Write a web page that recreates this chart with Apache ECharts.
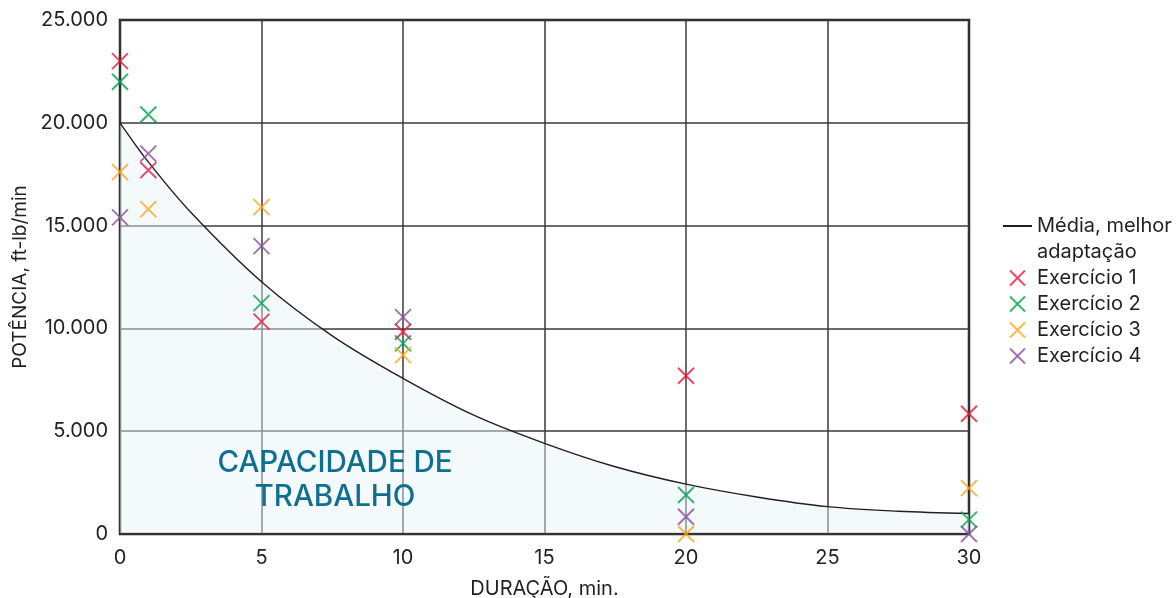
<!DOCTYPE html>
<html>
<head>
<meta charset="utf-8">
<script src="https://cdn.jsdelivr.net/npm/echarts@6/dist/echarts.min.js"></script>
<style>
  html, body { margin: 0; padding: 0; background: #fff; }
  #chart { width: 1176px; height: 598px; }
</style>
</head>
<body>
<div id="chart"></div>
<script>
// ---- data ----
const durations = [0, 1, 5, 10, 20, 30];
const exercicio1 = [23000, 17700, 10330, 9840, 7700, 5850];
const exercicio2 = [22000, 20400, 11230, 9270, 1900, 700];
const exercicio3 = [17600, 15800, 15900, 8700, 0, 2230];
const exercicio4 = [15400, 18500, 14000, 10550, 840, 0];

const curveX = [0, 1, 2.5, 5, 7.5, 10, 12.5, 15, 17.5, 20, 22.5, 25, 27.5, 30];
const curveY = [20000, 18100, 15650, 12270, 9640, 7570, 5780, 4410, 3270, 2425, 1800, 1330, 1110, 1000];

const xTicks = [0, 5, 10, 15, 20, 25, 30];
const yTicks = [0, 5000, 10000, 15000, 20000, 25000];

const lineName = 'Média, melhor adaptação';
const seriesNames = ['Exercício 1', 'Exercício 2', 'Exercício 3', 'Exercício 4'];
const seriesValues = [exercicio1, exercicio2, exercicio3, exercicio4];
const seriesColors = ['#e8193c', '#00a551', '#f9a61b', '#8c4f9f'];

const FONT = 'Inter, "Liberation Sans", Arial, sans-serif';
const TEXT = '#231f20';
const X_PATH = 'path://M0,0L10,10M10,0L0,10';

function fmtThousands(v) {
  return String(Math.round(v)).replace(/\B(?=(\d{3})+(?!\d))/g, '.');
}

const chart = echarts.init(document.getElementById('chart'), null, { renderer: 'canvas' });

const scatterSeries = seriesNames.map((name, i) => ({
  name: name,
  type: 'scatter',
  xAxisIndex: 0,
  yAxisIndex: 0,
  symbol: X_PATH,
  symbolSize: 16,
  z: 4,
  clip: false,
  itemStyle: { color: 'rgba(0,0,0,0)', borderColor: seriesColors[i], borderWidth: 2 },
  data: durations.map((d, j) => [d, seriesValues[i][j]])
}));

const option = {
  animation: false,
  backgroundColor: '#ffffff',
  grid: {
    left: 120, right: 207, top: 20, bottom: 64,
    outerBoundsMode: 'none',
    containLabel: false,
    show: true,
    borderColor: '#231f20',
    borderWidth: 2.5,
    backgroundColor: 'transparent'
  },
  xAxis: [{
    type: 'value',
    min: xTicks[0], max: xTicks[xTicks.length - 1], interval: 5,
    name: 'DURAÇÃO, min.',
    nameLocation: 'middle',
    nameGap: 45,
    nameTextStyle: { color: TEXT, fontSize: 20, fontFamily: FONT },
    axisLine: { show: false },
    axisTick: { show: false },
    axisLabel: { color: TEXT, fontSize: 20, fontFamily: FONT, margin: 14 },
    splitLine: { show: true, lineStyle: { color: '#3a3a3a', width: 1.5 } },
    z: 0
  }, {
    type: 'value',
    min: xTicks[0], max: xTicks[xTicks.length - 1], interval: 5,
    position: 'bottom',
    axisLine: { show: true, lineStyle: { color: '#333333', width: 2 } },
    axisTick: { show: false },
    axisLabel: { show: false },
    splitLine: { show: false },
    z: 3
  }],
  yAxis: {
    type: 'value',
    min: yTicks[0], max: yTicks[yTicks.length - 1], interval: 5000,
    name: 'POTÊNCIA, ft-lb/min',
    nameLocation: 'middle',
    nameGap: 85,
    nameTextStyle: { color: TEXT, fontSize: 19, fontFamily: FONT },
    axisLine: { show: false },
    axisTick: { show: false },
    axisLabel: { color: TEXT, fontSize: 20, fontFamily: FONT, margin: 12, formatter: fmtThousands },
    splitLine: { show: true, lineStyle: { color: '#3a3a3a', width: 1.5 } },
    z: 0
  },
  legend: {
    orient: 'vertical',
    left: 1003,
    top: 187,
    padding: 0,
    itemGap: 0,
    itemWidth: 29,
    itemHeight: 15,
    textStyle: { color: TEXT, fontSize: 20, lineHeight: 26, fontFamily: FONT },
    formatter: function (name) {
      return name === lineName ? '\nMédia, melhor\nadaptação' : name;
    },
    data: [{ name: lineName, icon: 'path://M0,0L29,0L29,2L0,2Z' }].concat(seriesNames)
  },
  graphic: [{
    type: 'text',
    x: 335,
    y: 446,
    z: 10,
    style: {
      text: 'CAPACIDADE DE\nTRABALHO',
      align: 'center',
      verticalAlign: 'top',
      fontSize: 29.5,
      lineHeight: 34,
      fontFamily: FONT,
      fontWeight: 500,
      fill: '#0f6f8e'
    }
  }],
  series: [{
    name: lineName,
    type: 'line',
    xAxisIndex: 0,
    yAxisIndex: 0,
    smooth: 0.35,
    showSymbol: false,
    symbol: 'none',
    z: 2,
    lineStyle: { color: '#231f20', width: 1.4 },
    itemStyle: { color: '#231f20' },
    areaStyle: { color: 'rgba(232,242,247,0.66)', origin: 'start' },
    data: curveX.map((x, i) => [x, curveY[i]])
  }].concat(scatterSeries)
};

chart.setOption(option);
</script>
</body>
</html>
